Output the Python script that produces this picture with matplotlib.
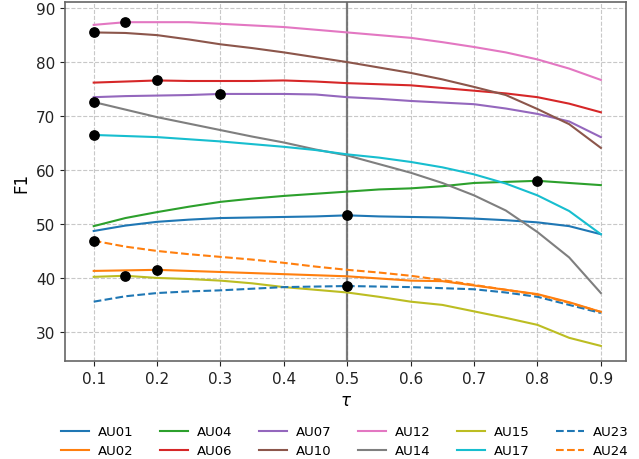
import matplotlib
matplotlib.use("Agg")
import matplotlib.pyplot as plt
import numpy as np

tau = [0.1, 0.15, 0.2, 0.25, 0.3, 0.35, 0.4, 0.45, 0.5,
       0.55, 0.6, 0.65, 0.7, 0.75, 0.8, 0.85, 0.9]

au_names = ["AU01", "AU02", "AU04", "AU06", "AU07", "AU10",
            "AU12", "AU14", "AU15", "AU17", "AU23", "AU24"]

au01 = [48.7, 49.7, 50.4, 50.8, 51.1, 51.2, 51.3, 51.4, 51.6,
        51.4, 51.3, 51.2, 51.0, 50.7, 50.3, 49.6, 48.1]
au02 = [41.3, 41.4, 41.5, 41.3, 41.1, 40.9, 40.7, 40.5, 40.3,
        39.9, 39.5, 39.4, 38.6, 37.8, 37.0, 35.5, 33.7]
au04 = [49.6, 51.1, 52.2, 53.2, 54.1, 54.7, 55.2, 55.6, 56.0,
        56.4, 56.6, 57.0, 57.6, 57.8, 58.0, 57.6, 57.2]
au06 = [76.2, 76.4, 76.6, 76.5, 76.5, 76.5, 76.6, 76.4, 76.1,
        75.9, 75.7, 75.2, 74.7, 74.2, 73.5, 72.3, 70.7]
au07 = [73.5, 73.7, 73.8, 73.9, 74.1, 74.1, 74.1, 74.0, 73.5,
        73.2, 72.8, 72.5, 72.2, 71.4, 70.4, 69.0, 66.1]
au10 = [85.5, 85.4, 85.0, 84.2, 83.3, 82.6, 81.8, 80.9, 80.0,
        79.0, 78.0, 76.8, 75.4, 73.9, 71.3, 68.5, 64.1]
au12 = [86.9, 87.4, 87.4, 87.4, 87.1, 86.8, 86.5, 86.0, 85.5,
        85.0, 84.5, 83.7, 82.8, 81.8, 80.5, 78.8, 76.7]
au14 = [72.6, 71.2, 69.8, 68.6, 67.4, 66.2, 65.1, 63.8, 62.7,
        61.1, 59.5, 57.6, 55.3, 52.5, 48.5, 43.8, 37.2]
au15 = [40.2, 40.4, 40.0, 39.8, 39.5, 39.0, 38.3, 37.8, 37.3,
        36.5, 35.6, 35.0, 33.8, 32.6, 31.3, 28.9, 27.4]
au17 = [66.5, 66.3, 66.1, 65.7, 65.3, 64.8, 64.3, 63.7, 62.9,
        62.3, 61.5, 60.5, 59.2, 57.5, 55.3, 52.4, 48.1]
au23 = [35.6, 36.6, 37.2, 37.5, 37.7, 38.0, 38.3, 38.4, 38.5,
        38.4, 38.3, 38.1, 37.9, 37.3, 36.5, 35.0, 33.5]
au24 = [46.9, 45.8, 45.0, 44.4, 43.9, 43.4, 42.8, 42.1, 41.5,
        41.0, 40.4, 39.6, 38.7, 37.8, 36.9, 35.4, 33.7]

scores = [au01, au02, au04, au06, au07, au10, au12, au14, au15, au17, au23, au24]
colors = ["C0", "C1", "C2", "C3", "C4", "C5", "C6", "C7", "C8", "C9", "C0", "C1"]
styles = ["-"] * 10 + ["--", "--"]

fig = plt.figure(figsize=(6.39, 4.6), dpi=100)
ax = fig.add_axes([0.102, 0.213, 0.878, 0.78])

ax.set_axisbelow(True)
ax.yaxis.grid(color="#c8c8c8", linestyle="dashed")
ax.xaxis.grid(color="#c8c8c8", linestyle="dashed")

ax.axvline(0.5, color="#666666", linewidth=1.6, alpha=0.85, zorder=1)

for name, vals, c, ls in zip(au_names, scores, colors, styles):
    ax.plot(tau, vals, color=c, linestyle=ls, linewidth=1.5, label=name, zorder=2)

# mark the best threshold of each AU
for vals in scores:
    i = int(np.argmax(vals))
    ax.scatter(tau[i], vals[i], color="black", s=45, zorder=3)

ax.set_xlim(0.055, 0.94)
ax.set_ylim(24.6, 91.1)
ax.set_xticks([0.1, 0.2, 0.3, 0.4, 0.5, 0.6, 0.7, 0.8, 0.9])
ax.set_yticks([30, 40, 50, 60, 70, 80, 90])
ax.tick_params(labelsize=11, colors="#222222")
for s in ax.spines.values():
    s.set_color("#666666")
    s.set_linewidth(1.2)

ax.set_xlabel(r"$\tau$", fontsize=12)
ax.set_ylabel("F1", fontsize=12)

fig.legend(loc="lower center", bbox_to_anchor=(0.54, -0.022), ncol=6,
           frameon=False, fontsize=9.5, handlelength=2.1, handletextpad=0.7,
           columnspacing=2.0, labelspacing=0.45)

fig.savefig("out.png", dpi=100)
